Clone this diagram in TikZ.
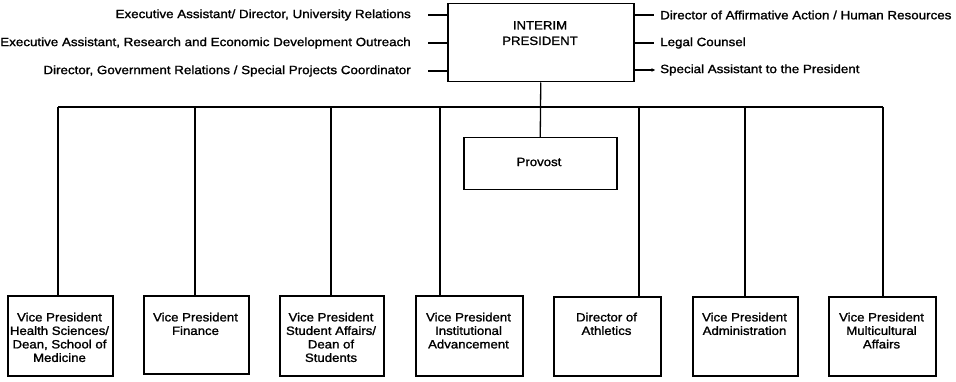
\documentclass[tikz,border=0pt]{standalone}
\usepackage{fontspec}
\setmainfont{Liberation Sans}
\newfontfamily\toplabfont{Liberation Sans}[FakeStretch=1.115,FakeBold=1.4]
\newfontfamily\boxfont{Liberation Sans}[FakeStretch=1.1,FakeBold=1.4]
\usetikzlibrary{arrows.meta}
\tikzset{
  ln/.style={line width=1.3pt},
  boxn/.style={draw, line width=1.5pt, inner sep=0pt, anchor=north west},
  boxtxt/.style={anchor=north, align=center, inner sep=0pt, font=\boxfont\fontsize{12}{13.5}\selectfont},
  leftlab/.style={anchor=east, inner sep=0pt, font=\toplabfont\fontsize{12}{13}\selectfont},
  rightlab/.style={anchor=west, inner sep=0pt, font=\toplabfont\fontsize{12}{13}\selectfont},
}
\begin{document}
\begin{tikzpicture}[x=1pt,y=-1pt]
\useasboundingbox (0,0) rectangle (956,382);
% president
\node[boxn, minimum width=186pt, minimum height=78pt] (pres) at (447,3) {};
\node[boxtxt, font=\boxfont\fontsize{12}{15.5}\selectfont] (prestxt) at (540,21) {INTERIM\\PRESIDENT};
% left staff
\node[leftlab] (l1) at (411,15) {Executive Assistant/ Director, University Relations};
\node[leftlab] (l2) at (411,43) {Executive Assistant, Research and Economic Development Outreach};
\node[leftlab] (l3) at (411,71) {Director, Government Relations / Special Projects Coordinator};
\coordinate (cl1) at (428,15);
\coordinate (cl2) at (428,43);
\coordinate (cl3) at (428,71);
\draw[ln] (cl1) -- (cl1 -| pres.west);
\draw[ln] (cl2) -- (cl2 -| pres.west);
\draw[ln] (cl3) -- (cl3 -| pres.west);
% right staff
\node[rightlab] (r1) at (660,15) {Director of Affirmative Action / Human Resources};
\node[rightlab] (r2) at (660,43) {Legal Counsel};
\node[rightlab] (r3) at (660,70) {Special Assistant to the President};
\coordinate (cr1) at (654,15);
\coordinate (cr2) at (654,43);
\coordinate (cr3) at (655,70);
\draw[ln] (cr1 -| pres.east) -- (cr1);
\draw[ln] (cr2 -| pres.east) -- (cr2);
\draw[line width=1.1pt, -{Stealth[length=3.5pt,width=3.5pt]}] (cr3 -| pres.east) -- (cr3);
% provost
\node[boxn, minimum width=153pt, minimum height=52pt] (prov) at (463,137) {};
\node[boxtxt, anchor=center] (provtxt) at (539,162) {Provost};
\draw[ln] (pres.south) -- (prov.north);
% bus
\coordinate (j1) at (58,107);
\coordinate (j2) at (195,107);
\coordinate (j3) at (331,107);
\coordinate (j4) at (440,107);
\coordinate (j5) at (639,107);
\coordinate (j6) at (745,107);
\coordinate (j7) at (883,107);
\draw[ln] (j1) -- (j7);
% bottom boxes
\node[boxn, minimum width=105pt, minimum height=80pt] (b1) at (7,295) {};
\node[boxn, minimum width=105pt, minimum height=78pt] (b2) at (143,295) {};
\node[boxn, minimum width=104pt, minimum height=80pt] (b3) at (279,295) {};
\node[boxn, minimum width=107pt, minimum height=80pt] (b4) at (415,295) {};
\node[boxn, minimum width=107pt, minimum height=79pt] (b5) at (553,296) {};
\node[boxn, minimum width=105pt, minimum height=79pt] (b6) at (692,296) {};
\node[boxn, minimum width=107pt, minimum height=79pt] (b7) at (828,296) {};
\draw[ln] (j1) -- (j1 |- b1.north);
\draw[ln] (j2) -- (j2 |- b2.north);
\draw[ln] (j3) -- (j3 |- b3.north);
\draw[ln] (j4) -- (j4 |- b4.north);
\draw[ln] (j5) -- (j5 |- b5.north);
\draw[ln] (j6) -- (j6 |- b6.north);
\draw[ln] (j7) -- (j7 |- b7.north);
\node[boxtxt] (t1) at (59.5,312.5) {Vice President\\Health Sciences/\\Dean, School of\\Medicine};
\node[boxtxt] (t2) at (195.5,312.5) {Vice President\\Finance};
\node[boxtxt] (t3) at (331,312.5) {Vice President\\Student Affairs/\\Dean of\\Students};
\node[boxtxt] (t4) at (468.5,312.5) {Vice President\\Institutional\\Advancement};
\node[boxtxt] (t5) at (606.5,312.5) {Director of\\Athletics};
\node[boxtxt] (t6) at (744.5,312.5) {Vice President\\Administration};
\node[boxtxt] (t7) at (881.5,312.5) {Vice President\\Multicultural\\Affairs};
\end{tikzpicture}
\end{document}
